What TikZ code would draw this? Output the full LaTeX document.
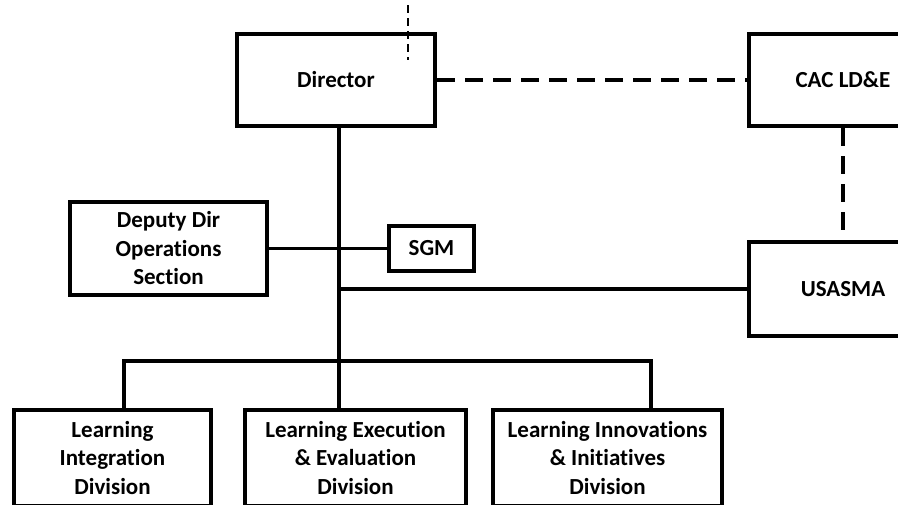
\documentclass[tikz,border=0pt]{standalone}
\usepackage{fontspec}
\setmainfont[Ligatures=NoCommon]{Carlito}
\usepackage{tikz}
\usetikzlibrary{positioning}
\tikzstyle{unit}   =[draw, rectangle, line width=4pt, inner sep=0pt,
                     align=center, font=\fontsize{23}{28.5}\selectfont\bfseries]
\tikzstyle{link}   =[line width=3.5pt]
\tikzstyle{liaison}=[line width=4pt, dash pattern=on 18pt off 10pt]

\begin{document}
\begin{tikzpicture}[x=1pt, y=-1pt, node distance=1cm, on grid]
                \clip (0,0) rectangle (898,504);
                \node[unit, minimum width=198pt, minimum height=92pt] (dir) at (336,80) {Director};
                \node[unit, minimum width=188pt, minimum height=92pt] (cac) at (843,80) {CAC LD\&E};
                \node[unit, minimum width=188pt, minimum height=94pt] (usa) [below=209pt of cac] {USASMA};
                \node[unit, minimum width=197pt, minimum height=93pt] (dep) at (168.5,248.5) {Deputy Dir\\Operations\\Section};
                \node[unit, minimum width=85pt, minimum height=45pt] (sgm) at (431.5,248.5) {SGM};
                \node[unit, minimum width=197pt, minimum height=96pt] (lid) at (112.5,458) {Learning\\Integration\\Division};
                \node[unit, minimum width=221pt, minimum height=96pt] (lee) [right=243pt of lid] {Learning Execution\\\& Evaluation\\Division};
                \node[unit, minimum width=229pt, minimum height=96pt] (lii) [right=252pt of lee] {Learning Innovations\\\& Initiatives\\Division};

                \coordinate (top1) at (408,5);
                \coordinate (top2) at (408,60);
                \coordinate (bus1) at (124,361);
                \coordinate (bus3) at (651,361);
                \coordinate (join) at (339,289);

                \draw[line width=1.8pt, dash pattern=on 8pt off 5pt] (top1) -- (top2);
                \draw[liaison] (dir) -- (cac);
                \draw[liaison] (cac) -- (usa);
                \draw[link] (dir.south -| join) -- (join |- lee.north);
                \draw[link] (dep) -- (sgm);
                \draw[link] (join) -- (usa);
                \draw[link] (bus1 |- lid.north) -- (bus1) -- (bus3) -- (bus3 |- lii.north);
        \end{tikzpicture}
\end{document}
